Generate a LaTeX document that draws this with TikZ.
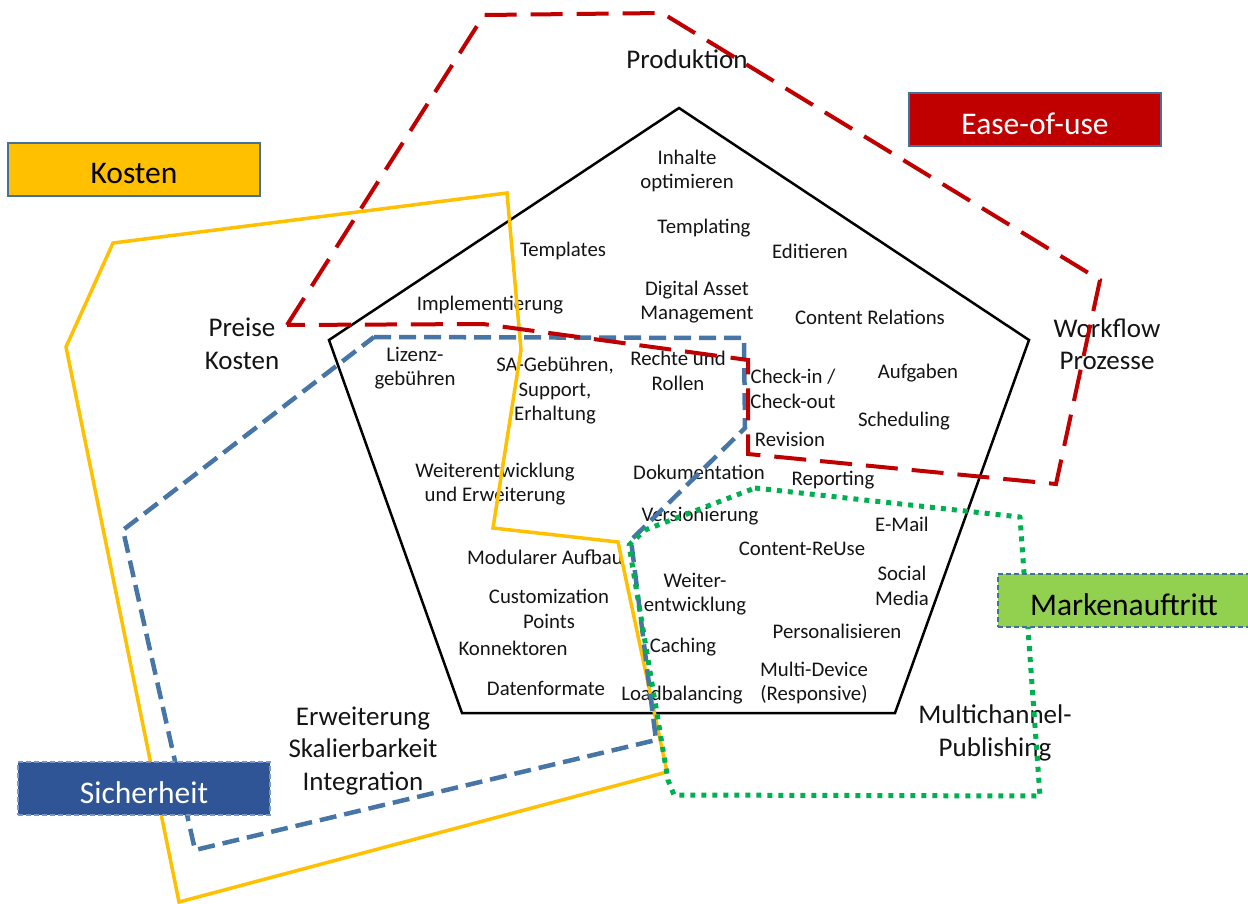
\documentclass[tikz,border=0pt]{standalone}
\usepackage{fontspec}
\setmainfont{Carlito}
\definecolor{ink}{RGB}{20,20,20}
\definecolor{easered}{RGB}{192,0,0}
\definecolor{costgold}{RGB}{255,192,0}
\definecolor{secline}{RGB}{71,117,166}
\definecolor{secfill}{RGB}{47,85,151}
\definecolor{secframe}{RGB}{120,150,200}
\definecolor{brandline}{RGB}{0,176,80}
\definecolor{brandfill}{RGB}{146,208,80}
\definecolor{frameblue}{RGB}{65,113,156}

\begin{document}
\begin{tikzpicture}[x=1pt,y=-1pt,
  cell/.style={font=\fontsize{20.8}{24.5}\selectfont, align=center, inner sep=0pt, text=ink},
  zone/.style={font=\fontsize{27}{32.5}\selectfont, align=center, inner sep=0pt, text=ink},
  badge/.style={minimum width=252pt, minimum height=53pt, inner sep=0pt, line width=2pt},
  badgetext/.style={font=\fontsize{31.5}{38}\selectfont, inner sep=0pt, yshift=-4.5pt},
  core/.style={draw=black, line width=2.5pt, line join=miter},
  costs/.style={draw=costgold, line width=3.5pt, line join=miter},
  safety/.style={draw=secline, line width=4.5pt, dash pattern=on 17pt off 8pt, line join=miter},
  usability/.style={draw=easered, line width=4pt, dash pattern=on 32pt off 14pt, line join=miter},
  branding/.style={draw=brandline, line width=5pt, dash pattern=on 5pt off 6pt, line join=round}
]
\useasboundingbox (0,0) rectangle (1248,903);

% ---- item labels inside the pentagon ----
\node[cell] (inh)  at (687,171) {Inhalte\\optimieren};
\node[cell] (tmpg) at (704,228) {Templating};
\node[cell] (edit) at (810,251) {Editieren};
\node[cell] (tmps) at (563,251) {Templates};
\node[cell] (dam)  at (697,302) {Digital Asset\\Management};
\node[cell] (impl) at (490,305) {Implementierung};
\node[cell] (crel) at (870,317) {Content Relations};
\node[cell] (liz)  at (415,368) {Lizenz-\\gebühren};
\node[cell] (sa)   at (555,391) {SA-Gebühren,\\Support,\\Erhaltung};
\node[cell] (rr)   at (678,371) {Rechte und\\Rollen};
\node[cell] (chk)  at (793,389) {Check-in /\\Check-out};
\node[cell] (aufg) at (918,373) {Aufgaben};
\node[cell] (sch)  at (904,421) {Scheduling};
\node[cell] (rev)  at (790,439) {Revision};
\node[cell] (wue)  at (495,484) {Weiterentwicklung\\und Erweiterung};
\node[cell] (dok)  at (699,472) {Dokumentation};
\node[cell] (rep)  at (833,480) {Reporting};
\node[cell] (ver)  at (700,516) {Versionierung};
\node[cell] (mail) at (902,524) {E-Mail};
\node[cell] (cru)  at (802,549) {Content-ReUse};
\node[cell] (mod)  at (545,557) {Modularer Aufbau};
\node[cell] (wew)  at (695,594) {Weiter-\\entwicklung};
\node[cell] (soc)  at (902,586) {Social\\Media};
\node[cell] (cus)  at (549,609) {Customization\\Points};
\node[cell] (pers) at (837,631) {Personalisieren};
\node[cell] (kon)  at (513,648) {Konnektoren};
\node[cell] (cach) at (683,647) {Caching};
\node[cell] (md)   at (814,683) {Multi-Device\\(Responsive)};
\node[cell] (dat)  at (546,688) {Datenformate};
\node[cell] (lb)   at (682,695) {Loadbalancing};

% ---- area labels around the pentagon ----
\node[zone] (prod) at (687,59)  {Produktion};
\node[zone] (pk)   at (242,344) {Preise\\Kosten};
\node[zone] (wf)   at (1107,344) {Workflow\\Prozesse};
\node[zone] (esi)  at (363,751) {Erweiterung\\Skalierbarkeit\\Integration};
\node[zone] (mcp)  at (995,733) {Multichannel-\\Publishing};

% ---- pentagon ----
\coordinate (p1) at (679,108);
\coordinate (p2) at (1029,340);
\coordinate (p3) at (895,713);
\coordinate (p4) at (462,713);
\coordinate (p5) at (329,340);
\draw[core] (p1) -- (p2) -- (p3) -- (p4) -- (p5) -- cycle;

% ---- cost region ----
\coordinate (k1) at (113,243);
\coordinate (k2) at (507,193);
\coordinate (k3) at (521,350);
\coordinate (k4) at (493,528);
\coordinate (k5) at (618,542);
\coordinate (k6) at (667,772);
\coordinate (k7) at (179,902);
\coordinate (k8) at (66,347);
\draw[costs] (k1) -- (k2) -- (k3) -- (k4) -- (k5) -- (k6) -- (k7) -- (k8) -- cycle;

% ---- security region ----
\coordinate (s1) at (374,337);
\coordinate (s2) at (744,338);
\coordinate (s3) at (745,428);
\coordinate (s4) at (631,540);
\coordinate (s5) at (656,740);
\coordinate (s6) at (195,850);
\coordinate (s7) at (123,530);
\draw[safety] (s1) -- (s2) -- (s3) -- (s4) -- (s5) -- (s6) -- (s7) -- cycle;

% ---- ease-of-use region ----
\coordinate (e1) at (287,325);
\coordinate (e2) at (484,15);
\coordinate (e3) at (662,13);
\coordinate (e4) at (1100,280);
\coordinate (e5) at (1056,484);
\coordinate (e6) at (748,454);
\coordinate (e7) at (748,360);
\coordinate (e8) at (483,324);
\draw[usability] (e1) -- (e2) -- (e3) -- (e4) -- (e5) -- (e6) -- (e7) -- (e8) -- cycle;

% ---- branding region ----
\coordinate (b1) at (755,488);
\coordinate (b2) at (1020,517);
\coordinate (b3) at (1040,796);
\coordinate (b4) at (674,795);
\coordinate (b5) at (668,780);
\coordinate (b6) at (629,545);
\coordinate (b7) at (645,530);
\draw[branding] (b1) -- (b2) -- (b3) -- (b4) -- (b5) -- (b6) -- (b7) -- cycle;

% ---- legend boxes ----
\node[badge, draw=frameblue, fill=costgold] (kosten) at (134,169.5) {};
\node[badgetext, text=black] (kostentxt) at (kosten.center) {Kosten};
\node[badge, draw=frameblue, fill=easered] (ease) at (1035,119.5) {};
\node[badgetext, text=white] (easetxt) at (ease.center) {Ease-of-use};
\node[badge, draw=frameblue, fill=brandfill, dash pattern=on 5pt off 3pt] (marke) at (1124,600) {};
\node[badgetext, text=black] (marketxt) at (marke.center) {Markenauftritt};
\node[badge, draw=secframe, fill=secfill, dash pattern=on 5pt off 3pt] (sicher) at (144,788.5) {};
\node[badgetext, text=white] (sichertxt) at (sicher.center) {Sicherheit};
\end{tikzpicture}
\end{document}
